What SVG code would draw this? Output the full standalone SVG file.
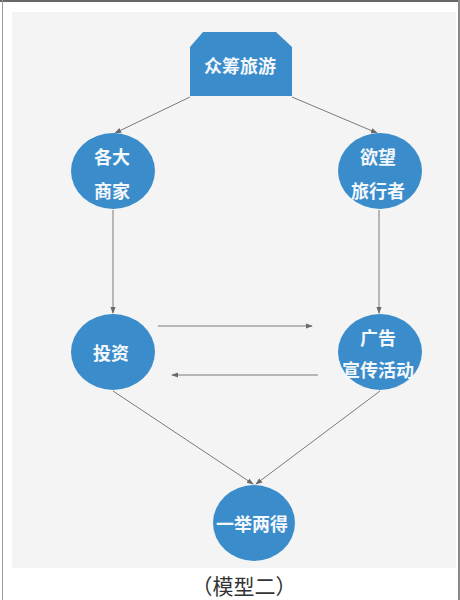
<svg xmlns="http://www.w3.org/2000/svg" width="460" height="600" viewBox="0 0 460 600">
<defs>
<style>
.node{fill:#3a8ccb;}
.t{font-family:"Noto Sans CJK SC","Noto Sans",sans-serif;font-size:18px;font-weight:bold;fill:#f4f8fc;text-anchor:middle;dominant-baseline:central;}
.c{stroke:#7a7a7a;stroke-width:1;fill:none;marker-end:url(#ah);}
</style>
<marker id="ah" viewBox="0 0 8 8" refX="7" refY="4" markerWidth="7" markerHeight="7" markerUnits="userSpaceOnUse" orient="auto">
<path d="M0,1 L8,4 L0,7 Z" fill="#6a6a6a"/>
</marker>
</defs>
<rect x="0" y="0" width="460" height="600" fill="#ffffff"/>
<line x1="0" y1="1" x2="460" y2="1" stroke="#666" stroke-width="2"/>
<line x1="2.5" y1="0" x2="2.5" y2="600" stroke="#9a9a9a" stroke-width="1"/>
<line x1="459" y1="0" x2="459" y2="600" stroke="#8a8a8a" stroke-width="2"/>
<rect x="12" y="12" width="444" height="556" fill="#f4f4f4"/>
<g id="connectors">
<line class="c" x1="190" y1="97" x2="115" y2="133"/>
<line class="c" x1="292" y1="97" x2="377" y2="133"/>
<line class="c" x1="113" y1="210" x2="113" y2="313"/>
<line class="c" x1="379" y1="210" x2="379" y2="313"/>
<line class="c" x1="158" y1="326" x2="312" y2="326"/>
<line class="c" x1="318" y1="375" x2="172" y2="375"/>
<line class="c" x1="113" y1="391" x2="253" y2="484"/>
<line class="c" x1="380" y1="391" x2="256" y2="484"/>
</g>
<g id="n1">
<polygon class="node" points="190,47 203,32 276,32 292,47 292,96 190,96"/>
<text class="t" x="240" y="65">众筹旅游</text>
</g>
<g id="n2">
<ellipse class="node" cx="113" cy="171" rx="42" ry="38"/>
<text class="t" x="112" y="156">各大</text>
<text class="t" x="112" y="190">商家</text>
</g>
<g id="n3">
<ellipse class="node" cx="380" cy="171" rx="42" ry="38"/>
<text class="t" x="378" y="156">欲望</text>
<text class="t" x="378" y="190">旅行者</text>
</g>
<g id="n4">
<ellipse class="node" cx="113" cy="352" rx="42" ry="38"/>
<text class="t" x="111" y="352">投资</text>
</g>
<g id="n5">
<ellipse class="node" cx="380" cy="352" rx="42" ry="38"/>
<text class="t" x="378" y="337">广告</text>
<text class="t" x="378" y="369">宣传活动</text>
</g>
<g id="n6">
<ellipse class="node" cx="254" cy="523" rx="41" ry="38"/>
<text class="t" x="252" y="523">一举两得</text>
</g>
<text x="244" y="585" font-family="Noto Sans CJK SC,Noto Sans,sans-serif" font-size="21" fill="#333" text-anchor="middle" dominant-baseline="central">（模型二）</text>
</svg>
